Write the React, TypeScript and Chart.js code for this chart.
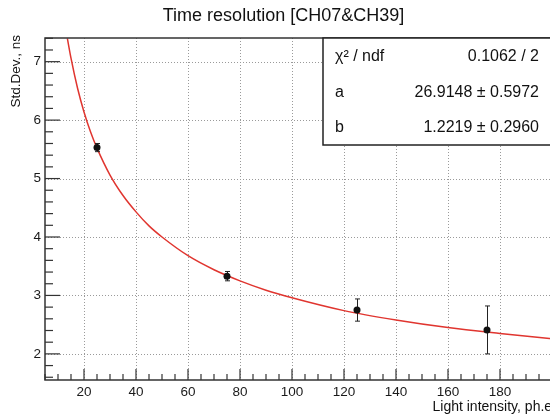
import React, { useEffect, useRef } from "react";
import { Chart, registerables } from "chart.js";

Chart.register(...registerables);

const chartTitle = "Time resolution [CH07&CH39]";
const xTitle = "Light intensity, ph.e.";
const yTitle = "Std.Dev., ns";

const pointX = [25, 75, 125, 175];
const pointY = [5.53, 3.33, 2.75, 2.41];
const pointErr = [0.07, 0.08, 0.19, 0.41];

const fitX = [13.6, 15, 17.5, 20, 22.5, 25, 30, 35, 40, 45, 50, 60, 70, 80, 90, 100, 120, 140, 160, 180, 200];
const fitY = [7.4, 7.06, 6.55, 6.14, 5.8, 5.52, 5.06, 4.71, 4.43, 4.19, 4.0, 3.68, 3.44, 3.25, 3.09, 2.96, 2.74, 2.58, 2.45, 2.35, 2.26];

const xTicks = [20, 40, 60, 80, 100, 120, 140, 160, 180];
const yTicks = [2, 3, 4, 5, 6, 7];

const statLabels = ["χ² / ndf", "a", "b"];
const statValues = ["0.1062 / 2", "26.9148 ± 0.5972", "1.2219 ± 0.2960"];

const FONT = "'Liberation Sans', Arial, Helvetica, sans-serif";

const rootPlugin = {
  id: "rootStyle",
  beforeDatasetsDraw(chart: any) {
    const { ctx, chartArea: a, scales } = chart;
    const xs = scales.x;
    const ys = scales.y;
    ctx.save();
    ctx.strokeStyle = "#9a9a9a";
    ctx.lineWidth = 1;
    ctx.setLineDash([1, 2]);
    for (const v of xTicks) {
      const px = Math.round(xs.getPixelForValue(v)) + 0.5;
      ctx.beginPath();
      ctx.moveTo(px, a.top);
      ctx.lineTo(px, a.bottom);
      ctx.stroke();
    }
    for (const v of yTicks) {
      const py = Math.round(ys.getPixelForValue(v)) + 0.5;
      ctx.beginPath();
      ctx.moveTo(a.left, py);
      ctx.lineTo(a.right, py);
      ctx.stroke();
    }
    ctx.restore();
  },
  afterDatasetDraw(chart: any, args: any) {
    if (args.index !== 1) return;
    const { ctx, scales } = chart;
    const xs = scales.x;
    const ys = scales.y;
    ctx.save();
    ctx.strokeStyle = "#222";
    ctx.lineWidth = 1;
    for (let i = 0; i < pointX.length; i++) {
      const px = Math.round(xs.getPixelForValue(pointX[i])) + 0.5;
      const y1 = ys.getPixelForValue(pointY[i] + pointErr[i]);
      const y2 = ys.getPixelForValue(pointY[i] - pointErr[i]);
      ctx.beginPath();
      ctx.moveTo(px, y1);
      ctx.lineTo(px, y2);
      ctx.moveTo(px - 2.5, y1);
      ctx.lineTo(px + 2.5, y1);
      ctx.moveTo(px - 2.5, y2);
      ctx.lineTo(px + 2.5, y2);
      ctx.stroke();
    }
    ctx.restore();
  },
  afterDatasetsDraw(chart: any) {
    const { ctx, chartArea: a, scales } = chart;
    const xs = scales.x;
    const ys = scales.y;
    ctx.save();
    ctx.strokeStyle = "#333";
    ctx.lineWidth = 1.5;
    ctx.beginPath();
    ctx.moveTo(a.right + 5, a.top);
    ctx.lineTo(a.left, a.top);
    ctx.lineTo(a.left, a.bottom);
    ctx.lineTo(a.right + 5, a.bottom);
    ctx.stroke();
    ctx.lineWidth = 1.2;
    for (let v = 5; v <= 200; v += 5) {
      const px = xs.getPixelForValue(v);
      const major = v % 20 === 0;
      ctx.beginPath();
      ctx.moveTo(px, a.bottom);
      ctx.lineTo(px, a.bottom - (major ? 11 : 6));
      ctx.stroke();
    }
    for (let k = 8; k <= 37; k++) {
      const v = k / 5;
      const py = ys.getPixelForValue(v);
      const major = k % 5 === 0;
      ctx.beginPath();
      ctx.moveTo(a.left, py);
      ctx.lineTo(a.left + (major ? 15 : 8), py);
      ctx.stroke();
    }
    const bx = 323;
    const by = a.top;
    const bw = 260;
    const bh = 107;
    ctx.fillStyle = "#fff";
    ctx.fillRect(bx, by, bw, bh);
    ctx.strokeStyle = "#222";
    ctx.lineWidth = 1.5;
    ctx.strokeRect(bx, by, bw, bh);
    ctx.fillStyle = "#111";
    ctx.font = `16px ${FONT}`;
    ctx.textBaseline = "middle";
    const rowsY = [57, 92.5, 127.5];
    for (let i = 0; i < statLabels.length; i++) {
      ctx.textAlign = "left";
      ctx.fillText(statLabels[i], 335, rowsY[i]);
      ctx.textAlign = "right";
      ctx.fillText(statValues[i], 539, rowsY[i]);
    }
    ctx.restore();
  },
  afterDraw(chart: any) {
    const { ctx, chartArea: a } = chart;
    ctx.save();
    ctx.fillStyle = "#111";
    ctx.font = `18px ${FONT}`;
    ctx.textAlign = "center";
    ctx.textBaseline = "middle";
    ctx.fillText(chartTitle, 283.5, 16);
    ctx.font = `14px ${FONT}`;
    ctx.textAlign = "right";
    ctx.textBaseline = "alphabetic";
    ctx.fillText(xTitle, a.right + 4, 411);
    ctx.font = `13.5px ${FONT}`;
    ctx.translate(20, a.top - 3);
    ctx.rotate(-Math.PI / 2);
    ctx.textAlign = "right";
    ctx.fillText(yTitle, 0, 0);
    ctx.restore();
  },
};

export default function App() {
  const ref = useRef<HTMLCanvasElement | null>(null);

  useEffect(() => {
    if (!ref.current) return;
    const chart = new Chart(ref.current, {
      type: "scatter",
      data: {
        datasets: [
          {
            label: "data",
            data: pointX.map((x, i) => ({ x, y: pointY[i] })),
            backgroundColor: "#111",
            borderColor: "#111",
            pointRadius: 3.5,
            pointBorderWidth: 0,
            showLine: false,
          },
          {
            label: "fit",
            data: fitX.map((x, i) => ({ x, y: fitY[i] })),
            borderColor: "#e0352f",
            borderWidth: 1.5,
            pointRadius: 0,
            showLine: true,
            tension: 0.4,
            cubicInterpolationMode: "monotone",
          },
        ],
      },
      options: {
        responsive: false,
        animation: false,
        events: [],
        layout: { padding: { top: 38, right: 8, left: 0, bottom: 0 } },
        plugins: {
          legend: { display: false },
          title: { display: false },
          tooltip: { enabled: false },
        },
        scales: {
          x: {
            type: "linear",
            min: 5,
            max: 200,
            grid: { display: false, drawTicks: false },
            border: { display: false },
            afterFit: (s: any) => {
              s.height = 39;
            },
            afterBuildTicks: (s: any) => {
              s.ticks = xTicks.map((v) => ({ value: v }));
            },
            ticks: {
              color: "#1a1a1a",
              font: { family: FONT, size: 13.5 },
              padding: 4,
              maxRotation: 0,
              autoSkip: false,
            },
          },
          y: {
            type: "linear",
            min: 1.553,
            max: 7.405,
            grid: { display: false, drawTicks: false },
            border: { display: false },
            afterFit: (s: any) => {
              s.width = 45;
            },
            afterBuildTicks: (s: any) => {
              s.ticks = yTicks.map((v) => ({ value: v }));
            },
            ticks: {
              color: "#1a1a1a",
              font: { family: FONT, size: 13.5 },
              padding: 4,
              autoSkip: false,
            },
          },
        },
      },
      plugins: [rootPlugin],
    } as any);
    return () => chart.destroy();
  }, []);

  return (
    <div
      style={{
        position: "absolute",
        left: 0,
        top: 0,
        width: 550,
        height: 419,
        overflow: "hidden",
        background: "#fff",
      }}
    >
      <canvas ref={ref} width={560} height={419} style={{ width: 560, height: 419, display: "block" }} />
    </div>
  );
}
